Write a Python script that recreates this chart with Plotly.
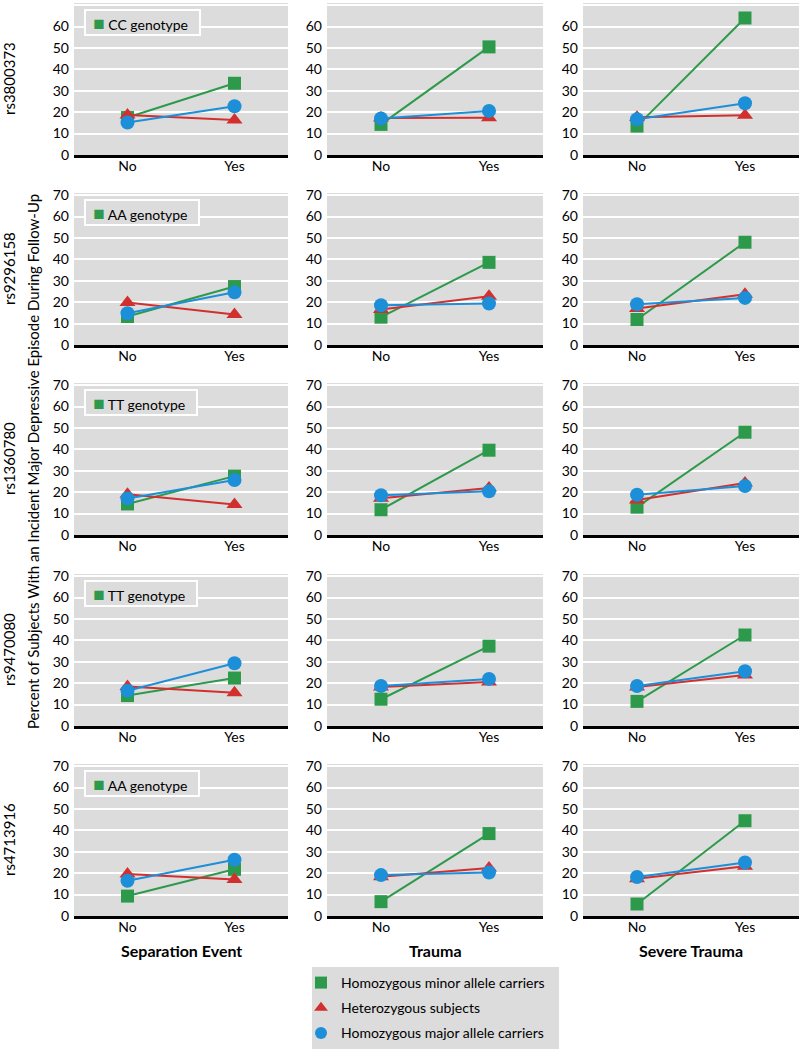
import plotly.graph_objects as go

# rows = SNPs, columns = life event type, values = [No, Yes]
snps = ["rs3800373", "rs9296158", "rs1360780", "rs9470080", "rs4713916"]
genotypes = ["CC genotype", "AA genotype", "TT genotype", "TT genotype", "AA genotype"]
events = ["Separation Event", "Trauma", "Severe Trauma"]
categories = ["No", "Yes"]

homo_minor = [
    [[17.5, 33.5], [14.3, 50.5], [13.5, 64.0]],
    [[13.3, 27.3], [13.0, 38.6], [11.9, 48.0]],
    [[14.5, 27.5], [11.8, 39.6], [13.0, 48.0]],
    [[14.2, 22.4], [12.5, 37.3], [11.5, 42.5]],
    [[9.3, 21.8], [6.7, 38.5], [5.6, 44.5]],
]
hetero = [
    [[18.7, 16.3], [17.3, 17.4], [17.6, 18.6]],
    [[19.8, 14.2], [16.6, 22.8], [17.0, 23.7]],
    [[19.0, 14.3], [17.2, 21.9], [16.4, 24.3]],
    [[18.5, 15.5], [18.2, 20.6], [18.2, 23.8]],
    [[19.6, 17.0], [18.3, 22.4], [17.4, 23.2]],
]
homo_major = [
    [[15.2, 22.8], [17.1, 20.6], [16.7, 24.2]],
    [[14.8, 24.6], [18.6, 19.4], [19.0, 22.0]],
    [[17.1, 25.7], [18.6, 20.4], [18.8, 22.9]],
    [[16.5, 29.3], [18.7, 22.0], [18.7, 25.6]],
    [[16.5, 26.3], [19.1, 20.3], [18.2, 25.0]],
]

series = [
    ("Homozygous minor allele carriers", homo_minor, "#2c9a4a", "square", 13),
    ("Heterozygous subjects", hetero, "#d22f2f", "triangle-up", 14),
    ("Homozygous major allele carriers", homo_major, "#1c8fd8", "circle", 14),
]

W, H = 799, 1049
FONT = "Lato"
BG = "#dcdcdc"


def px_x(v):
    return v / W


def px_y(v):
    return 1 - v / H


col_px = [(74, 288), (327, 543), (583, 799)]
row_bottom = [155, 345, 535, 726, 916]
plot_h = 152

fig = go.Figure()
layout = {}

for r in range(5):
    for c in range(3):
        n = r * 3 + c + 1
        sfx = "" if n == 1 else str(n)
        for name, vals, color, sym, size in series:
            fig.add_trace(go.Scatter(
                x=categories, y=vals[r][c], mode="lines+markers",
                line=dict(color=color, width=2),
                marker=dict(symbol=sym, size=size, color=color),
                xaxis="x" + sfx, yaxis="y" + sfx, showlegend=False,
                hoverinfo="skip"))
        x0, x1 = col_px[c]
        yb = row_bottom[r]
        layout["xaxis" + sfx] = dict(
            domain=[px_x(x0), px_x(x1)], anchor="y" + sfx,
            type="category", range=[-0.5, 1.5],
            showgrid=False, showline=True, linecolor="black", linewidth=2.5,
            ticks="", ticklabelstandoff=-4,
            tickfont=dict(family=FONT, size=14, color="black"))
        layout["yaxis" + sfx] = dict(
            domain=[px_y(yb), px_y(yb - plot_h)], anchor="x" + sfx,
            range=[0, 71], tickvals=list(range(0, 80, 10)),
            showgrid=True, gridcolor="white", gridwidth=1.5,
            zeroline=False, showline=False, ticks="", ticklabelstandoff=4,
            tickfont=dict(family=FONT, size=14, color="black"))

# legend-only traces
for i, (name, vals, color, sym, size) in enumerate(series):
    fig.add_trace(go.Scatter(
        x=[None], y=[None], mode="markers", name=name,
        marker=dict(symbol=sym, size=size, color=color),
        legendgroup="g%d" % i, showlegend=True))

annotations = []
shapes = []

for r in range(5):
    yb = row_bottom[r]
    yt = yb - plot_h
    annotations.append(dict(
        text=snps[r], textangle=-90, xref="paper", yref="paper",
        x=px_x(9), y=px_y((yb + yt) / 2), xanchor="center", yanchor="middle",
        showarrow=False, font=dict(family=FONT, size=15, color="black")))
    annotations.append(dict(
        text="&nbsp;&nbsp;<span style='color:#2c9a4a;font-size:19px'>■</span> "
             + genotypes[r] + "&nbsp;&nbsp;&nbsp;",
        xref="paper", yref="paper", x=px_x(84), y=px_y(yt + 6),
        xanchor="left", yanchor="top", showarrow=False, align="left",
        bgcolor=BG, bordercolor="white", borderwidth=2, borderpad=0,
        font=dict(family=FONT, size=14, color="black")))

annotations.append(dict(
    text="Percent of Subjects With an Incident Major Depressive Episode During Follow-Up",
    textangle=-90, xref="paper", yref="paper", x=px_x(33),
    y=px_y(462), xanchor="center", yanchor="middle", showarrow=False,
    font=dict(family=FONT, size=15, color="black")))

for c in range(3):
    x0, x1 = col_px[c]
    annotations.append(dict(
        text="<b>" + events[c] + "</b>", xref="paper", yref="paper",
        x=px_x((x0 + x1) / 2), y=px_y(950), xanchor="center", yanchor="middle",
        showarrow=False, font=dict(family=FONT, size=16, color="black")))

shapes.append(dict(type="rect", xref="paper", yref="paper",
                   x0=px_x(312), x1=px_x(559), y0=0, y1=px_y(967),
                   fillcolor=BG, line=dict(width=0), layer="below"))

fig.update_layout(
    width=W, height=H, margin=dict(l=0, r=0, t=0, b=0, autoexpand=False),
    paper_bgcolor="white", plot_bgcolor=BG,
    annotations=annotations, shapes=shapes,
    legend=dict(x=px_x(301), y=px_y(967), xanchor="left", yanchor="top",
                bgcolor="rgba(0,0,0,0)", tracegroupgap=4, itemsizing="constant",
                font=dict(family=FONT, size=14, color="black")),
    **layout)

# drop the default 8px body margin so the figure fills the window
fig.write_html("out.html", config={"displayModeBar": False},
               post_script="document.body.style.margin='0';")
